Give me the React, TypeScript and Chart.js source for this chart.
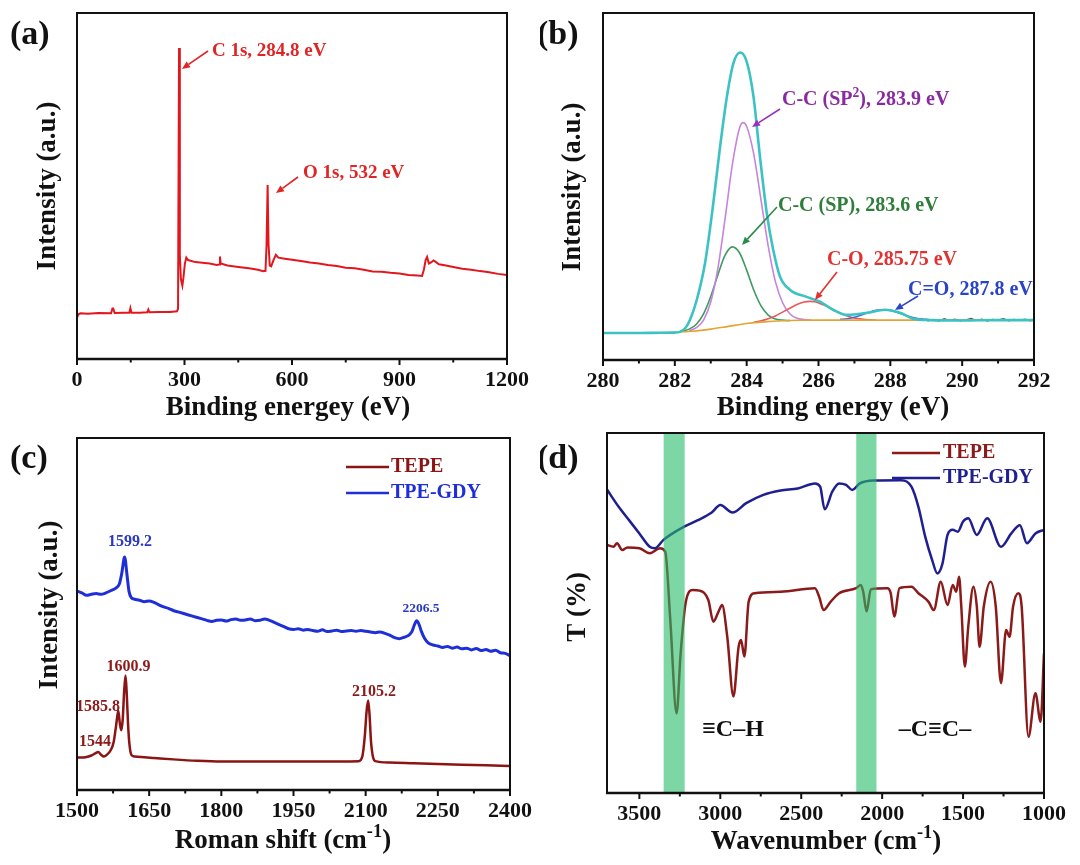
import React, { useEffect, useRef } from "react";
import { Chart, registerables } from "chart.js";
Chart.register(...registerables);

const FONT = "'Liberation Serif', 'Times New Roman', Times, serif";

// ---------------- (a) XPS survey ----------------
const A_ENERGY = [0, 4, 10, 30, 60, 95, 99, 101, 105, 130, 146, 149, 152, 175, 196, 199, 202, 230, 260, 279, 282, 284.8, 287, 290, 294, 297, 301, 305, 310, 330, 350, 370, 390, 397, 399, 401, 420, 450, 480, 505, 520, 526, 529, 532, 534.5, 538, 542, 548, 555, 562, 580, 600, 625, 650, 675, 700, 725, 750, 775, 800, 825, 850, 875, 900, 925, 950, 963, 968, 973, 977, 982, 988, 995, 1002, 1010, 1030, 1050, 1075, 1100, 1125, 1150, 1175, 1200];
const A_INTENSITY = [12.0, 12.9, 13.2, 13.1, 13.3, 13.2, 14.6, 14.6, 13.3, 13.4, 13.4, 14.7, 13.4, 13.4, 13.5, 14.3, 13.5, 13.6, 13.6, 13.8, 14.5, 89.9, 30, 23, 21.2, 23.5, 27.5, 29.3, 28.6, 28.0, 27.8, 27.6, 27.2, 27.3, 29.6, 27.6, 27.0, 26.6, 26.2, 25.8, 25.4, 25.5, 33, 50.3, 33, 27.0, 26.8, 28.5, 30.1, 29.3, 29.0, 28.7, 28.3, 27.9, 27.6, 27.2, 26.9, 26.4, 26.2, 25.8, 25.3, 25.2, 24.9, 24.7, 24.3, 24.1, 24.0, 25.8, 28.6, 29.5, 27.6, 27.9, 28.5, 28.0, 27.4, 27.0, 26.6, 26.1, 25.8, 25.4, 25.1, 24.6, 24.3];
const A_TICKS = [0, 300, 600, 900, 1200];
const A_MINOR = [150, 450, 750, 1050];

// ---------------- (b) C 1s ----------------
const B_ENV_X = [280, 281, 281.6, 282.0, 282.14, 282.3, 282.42, 282.61, 282.84, 283.07, 283.26, 283.45, 283.63, 283.82, 284.0, 284.19, 284.37, 284.56, 284.74, 284.93, 285.21, 285.67, 286.04, 286.42, 286.79, 287.35, 287.85, 288.27, 288.64, 289.1, 290, 291, 292];
const B_ENV_Y = [7.8, 7.8, 7.85, 7.9, 8.1, 9.3, 11.5, 17.3, 27.9, 45.1, 61.5, 75.9, 85.5, 88.6, 86.0, 75.9, 58.6, 42.3, 31.7, 24.0, 20.2, 18.2, 16.8, 14.4, 13.0, 13.6, 14.5, 13.6, 11.9, 11.5, 11.4, 11.5, 11.5];
const B_RAW_X = [288.6, 288.75, 288.9, 289.05, 289.2, 289.35, 289.5, 289.65, 289.8, 289.95, 290.1, 290.25, 290.4, 290.55, 290.7, 290.85, 291.0, 291.15, 291.3, 291.45, 291.6, 291.75, 291.9, 292];
const B_RAW_Y = [11.9, 11.4, 11.8, 11.3, 11.7, 11.2, 11.9, 11.4, 11.8, 11.3, 11.6, 12.0, 11.4, 11.8, 11.2, 11.7, 11.5, 11.9, 11.3, 11.7, 11.4, 11.8, 11.3, 11.6];
const B_SP2_X = [282.4, 282.6, 282.8, 283.0, 283.2, 283.4, 283.6, 283.8, 283.9, 284.0, 284.2, 284.4, 284.6, 284.8, 285.0, 285.2, 285.4, 285.6, 285.8];
const B_SP2_Y = [8.45, 9.3, 11.5, 16.7, 26.5, 40.8, 56.2, 66.8, 68.4, 67.3, 59.2, 46.1, 32.8, 22.6, 16.5, 13.35, 12.0, 11.65, 11.5];
const B_SP_X = [282.2, 282.4, 282.6, 282.8, 283.0, 283.2, 283.4, 283.6, 283.8, 284.0, 284.2, 284.4, 284.6, 284.8, 285.0, 285.2];
const B_SP_Y = [8.3, 8.9, 10.3, 13.3, 18.3, 24.6, 30.2, 32.6, 30.9, 25.9, 20.1, 15.6, 12.95, 11.8, 11.5, 11.35];
const B_CO_X = [284.2, 284.4, 284.6, 284.8, 285.0, 285.2, 285.4, 285.6, 285.75, 285.9, 286.0, 286.2, 286.4, 286.6, 286.8, 287.0, 287.2, 287.4, 287.6];
const B_CO_Y = [10.9, 11.3, 11.9, 12.7, 13.8, 14.9, 16.0, 16.7, 16.9, 16.8, 16.45, 15.6, 14.5, 13.5, 12.7, 12.1, 11.8, 11.6, 11.5];
const B_CDO_X = [286.6, 286.8, 287.0, 287.2, 287.4, 287.6, 287.8, 288.0, 288.2, 288.4, 288.6, 288.8, 289.0, 289.2];
const B_CDO_Y = [11.7, 11.9, 12.3, 13.0, 13.7, 14.3, 14.5, 14.3, 13.7, 13.0, 12.3, 11.9, 11.7, 11.5];
const B_BG_X = [280, 281, 282, 282.5, 283, 283.5, 284, 284.5, 285, 285.5, 286, 287, 288, 289, 290, 291, 292];
const B_BG_Y = [7.8, 7.8, 8.0, 8.3, 8.9, 9.7, 10.5, 11.0, 11.3, 11.45, 11.5, 11.5, 11.5, 11.5, 11.5, 11.5, 11.5];
const B_TICKS = [280, 282, 284, 286, 288, 290, 292];
const B_MINOR = [281, 283, 285, 287, 289, 291];

// ---------------- (c) Raman ----------------
const C_GDY_X = [1500, 1510, 1520, 1530, 1540, 1550, 1560, 1570, 1580, 1588, 1593, 1599, 1604, 1608, 1613, 1620, 1630, 1640, 1650, 1660, 1670, 1680, 1690, 1700, 1710, 1720, 1730, 1740, 1750, 1760, 1770, 1780, 1790, 1800, 1810, 1820, 1830, 1840, 1850, 1860, 1870, 1880, 1890, 1900, 1910, 1920, 1930, 1940, 1950, 1960, 1970, 1980, 1990, 2000, 2010, 2020, 2030, 2040, 2050, 2060, 2070, 2080, 2090, 2100, 2110, 2120, 2130, 2140, 2150, 2160, 2170, 2180, 2190, 2196, 2201, 2206, 2211, 2216, 2222, 2230, 2240, 2250, 2260, 2270, 2280, 2290, 2300, 2310, 2320, 2330, 2340, 2350, 2360, 2370, 2380, 2390, 2400];
const C_GDY_Y = [56.5, 56.0, 55.3, 55.6, 55.8, 55.6, 56.0, 56.6, 57.3, 58.5, 61.5, 66.2, 61.0, 56.5, 54.6, 54.2, 53.9, 53.5, 53.7, 53.3, 52.6, 52.0, 51.6, 51.0, 50.6, 50.2, 49.8, 49.4, 49.0, 48.6, 48.2, 47.9, 48.2, 48.3, 48.0, 48.4, 48.6, 48.2, 48.3, 48.6, 48.1, 48.2, 48.6, 48.2, 47.6, 47.0, 46.4, 45.8, 45.6, 45.8, 45.4, 45.6, 45.3, 45.1, 45.5, 45.0, 45.2, 45.4, 45.0, 45.2, 45.3, 45.1, 45.3, 45.1, 44.9, 44.7, 44.9, 44.5, 44.0, 43.3, 43.0, 43.4, 44.0, 45.0, 46.8, 48.1, 47.0, 45.0, 43.2, 41.8, 41.2, 40.9, 40.5, 40.8, 40.3, 40.6, 40.1, 40.3, 39.8, 40.2, 39.6, 39.9, 39.4, 39.7, 39.0, 38.8, 38.2];
const C_TEPE_X = [1500, 1510, 1520, 1530, 1538, 1544, 1550, 1556, 1562, 1570, 1576, 1581, 1585.8, 1589, 1592, 1595, 1598, 1600.9, 1603.5, 1606, 1609, 1613, 1620, 1640, 1660, 1700, 1750, 1800, 1850, 1900, 1950, 2000, 2050, 2085, 2093, 2098, 2102, 2105.2, 2108, 2111, 2115, 2120, 2150, 2200, 2250, 2300, 2350, 2400];
const C_TEPE_Y = [9.2, 9.2, 9.4, 9.8, 10.4, 10.8, 10.0, 9.5, 10.0, 11.3, 13.5, 18.0, 22.5, 19.0, 17.0, 20.0, 28.0, 32.5, 27.0, 19.0, 13.0, 10.0, 9.5, 9.3, 9.1, 8.7, 8.3, 8.1, 8.1, 8.1, 8.1, 8.1, 8.1, 8.2, 9.5, 15.0, 22.5, 25.4, 21.5, 14.0, 9.5, 8.2, 7.8, 7.6, 7.4, 7.2, 7.0, 6.8];
const C_TICKS = [1500, 1650, 1800, 1950, 2100, 2250, 2400];
const C_MINOR = [1575, 1725, 1875, 2025, 2175, 2325];

// ---------------- (d) FTIR ----------------
const D_GDY_X = [3700, 3628, 3564, 3500, 3436, 3404, 3351, 3309, 3223, 3138, 3053, 3000, 2925, 2840, 2734, 2627, 2521, 2415, 2383, 2355, 2308, 2266, 2223, 2185, 2138, 2053, 1883, 1819, 1776, 1734, 1691, 1659, 1627, 1596, 1564, 1532, 1500, 1468, 1415, 1351, 1266, 1202, 1149, 1106, 1053, 1000];
const D_GDY_Y = [84.3, 79.5, 75.8, 72.1, 68.4, 68.0, 70.3, 71.7, 74.0, 75.8, 77.9, 80.0, 77.9, 80.5, 82.8, 84.0, 84.6, 86.0, 85.1, 78.8, 83.7, 86.0, 85.6, 84.2, 86.0, 86.8, 86.9, 85.1, 79.5, 71.2, 64.7, 61.0, 63.8, 71.7, 73.1, 72.6, 75.4, 76.3, 71.7, 76.3, 68.4, 72.1, 74.4, 69.4, 72.1, 73.1];
const D_TEPE_X = [3700, 3660, 3638, 3606, 3574, 3500, 3436, 3372, 3340, 3309, 3270, 3245, 3213, 3170, 3128, 3074, 3043, 3011, 2989, 2957, 2919, 2887, 2872, 2851, 2825, 2787, 2627, 2415, 2389, 2362, 2319, 2266, 2160, 2132, 2117, 2096, 2070, 1968, 1947, 1925, 1893, 1819, 1776, 1713, 1681, 1638, 1596, 1564, 1542, 1525, 1511, 1489, 1468, 1436, 1415, 1398, 1372, 1330, 1298, 1266, 1234, 1213, 1191, 1159, 1138, 1096, 1053, 1021, 1000];
const D_TEPE_Y = [68.9, 68.4, 69.4, 67.5, 68.2, 68.0, 66.6, 68.0, 67.0, 48.1, 22.1, 38.8, 53.1, 56.4, 56.2, 53.6, 47.6, 50.4, 52.2, 43.4, 26.8, 40.6, 42.5, 37.9, 53.1, 55.5, 55.9, 56.9, 54.5, 50.8, 53.1, 55.5, 56.9, 57.8, 55.9, 50.4, 56.6, 56.9, 55.5, 49.0, 56.9, 57.3, 55.5, 53.1, 50.8, 58.7, 52.2, 57.8, 55.9, 60.1, 51.8, 35.1, 46.2, 57.3, 51.8, 40.6, 51.8, 58.7, 51.8, 30.5, 45.3, 43.4, 51.8, 55.5, 51.8, 15.6, 27.7, 19.8, 38.8];
const D_BANDS = [[3350, 3220], [2160, 2035]];
const D_TICKS = [3500, 3000, 2500, 2000, 1500, 1000];
const D_MINOR = [3250, 2750, 2250, 1750, 1250];

// ---------------- types & helpers ----------------
type Series = { x: number[]; y: number[]; color: string; width: number; smooth: boolean; order: number };
type TextItem = { text: string; x: number; y: number; size: number; color: string; align?: "left" | "center" | "right"; rot?: boolean };
type ArrowItem = { x1: number; y1: number; x2: number; y2: number; color: string };
type LegendItem = { label: string; color: string; x1: number; x2: number; y: number; tx: number };
type Spec = {
  offX: number; offY: number; w: number; h: number;
  area: { l: number; t: number; r: number; b: number };
  xMin: number; xMax: number; reverse: boolean; ticks: number[]; minor: number[]; tickPad: number;
  series: Series[]; texts: TextItem[]; arrows: ArrowItem[]; legends: LegendItem[]; bands: number[][];
};

function parseRich(s: string) {
  const out: { t: string; sup: boolean }[] = [];
  const re = /\^\{([^}]*)\}/g;
  let last = 0;
  let m: RegExpExecArray | null;
  while ((m = re.exec(s))) {
    if (m.index > last) out.push({ t: s.slice(last, m.index), sup: false });
    out.push({ t: m[1], sup: true });
    last = m.index + m[0].length;
  }
  if (last < s.length) out.push({ t: s.slice(last), sup: false });
  return out;
}

function drawText(ctx: CanvasRenderingContext2D, it: TextItem, offX: number, offY: number) {
  const parts = parseRich(it.text);
  const fontOf = (sup: boolean) => `bold ${sup ? it.size * 0.68 : it.size}px ${FONT}`;
  let total = 0;
  const widths = parts.map((p) => {
    ctx.font = fontOf(p.sup);
    const w = ctx.measureText(p.t).width;
    total += w;
    return w;
  });
  ctx.save();
  ctx.translate(it.x - offX, it.y - offY);
  if (it.rot) ctx.rotate(-Math.PI / 2);
  let cx = it.align === "left" ? 0 : it.align === "right" ? -total : -total / 2;
  ctx.fillStyle = it.color;
  ctx.textBaseline = "middle";
  ctx.textAlign = "left";
  parts.forEach((p, i) => {
    ctx.font = fontOf(p.sup);
    ctx.fillText(p.t, cx, p.sup ? -it.size * 0.33 : 0);
    cx += widths[i];
  });
  ctx.restore();
}

function drawArrow(ctx: CanvasRenderingContext2D, a: ArrowItem, offX: number, offY: number) {
  const x1 = a.x1 - offX, y1 = a.y1 - offY, x2 = a.x2 - offX, y2 = a.y2 - offY;
  const ang = Math.atan2(y2 - y1, x2 - x1);
  const hl = 8, hw = 3.5;
  const bx = x2 - hl * Math.cos(ang), by = y2 - hl * Math.sin(ang);
  ctx.save();
  ctx.strokeStyle = a.color;
  ctx.fillStyle = a.color;
  ctx.lineWidth = 1.6;
  ctx.beginPath();
  ctx.moveTo(x1, y1);
  ctx.lineTo(bx, by);
  ctx.stroke();
  ctx.beginPath();
  ctx.moveTo(x2, y2);
  ctx.lineTo(bx + hw * Math.sin(ang), by - hw * Math.cos(ang));
  ctx.lineTo(bx - hw * Math.sin(ang), by + hw * Math.cos(ang));
  ctx.closePath();
  ctx.fill();
  ctx.restore();
}

function makeDecor(spec: Spec) {
  return {
    id: "decor",
    afterDatasetsDraw(chart: any) {
      const ctx: CanvasRenderingContext2D = chart.ctx;
      const ca = chart.chartArea;
      const xs = chart.scales.x;
      ctx.save();
      spec.bands.forEach(([a, b]) => {
        const p1 = xs.getPixelForValue(a), p2 = xs.getPixelForValue(b);
        ctx.fillStyle = "rgba(38,188,105,0.6)";
        ctx.fillRect(Math.min(p1, p2), ca.top, Math.abs(p2 - p1), ca.bottom - ca.top);
      });
      ctx.strokeStyle = "#111";
      ctx.lineWidth = 2;
      ctx.strokeRect(ca.left, ca.top, ca.right - ca.left, ca.bottom - ca.top);
      ctx.lineWidth = 2.6;
      ctx.beginPath();
      ctx.moveTo(ca.left - 1, ca.bottom);
      ctx.lineTo(ca.right + 1, ca.bottom);
      ctx.stroke();
      ctx.lineWidth = 2;
      const tick = (v: number, len: number) => {
        const px = xs.getPixelForValue(v);
        ctx.beginPath();
        ctx.moveTo(px, ca.bottom);
        ctx.lineTo(px, ca.bottom + len);
        ctx.stroke();
      };
      spec.ticks.forEach((v) => tick(v, 6));
      spec.minor.forEach((v) => tick(v, 3.5));
      ctx.restore();
      spec.texts.forEach((t) => drawText(ctx, t, spec.offX, spec.offY));
      spec.arrows.forEach((a) => drawArrow(ctx, a, spec.offX, spec.offY));
      spec.legends.forEach((lg) => {
        ctx.save();
        ctx.strokeStyle = lg.color;
        ctx.lineWidth = 2.5;
        ctx.beginPath();
        ctx.moveTo(lg.x1 - spec.offX, lg.y - spec.offY);
        ctx.lineTo(lg.x2 - spec.offX, lg.y - spec.offY);
        ctx.stroke();
        ctx.restore();
        drawText(ctx, { text: lg.label, x: lg.tx, y: lg.y, size: 20, color: lg.color, align: "left" }, spec.offX, spec.offY);
      });
    },
  };
}

const BLACK = "#111";

const A_SPEC: Spec = {
  offX: 0, offY: 0, w: 540, h: 425,
  area: { l: 77, t: 13, r: 507, b: 359 },
  xMin: 0, xMax: 1200, reverse: false, ticks: A_TICKS, minor: A_MINOR, tickPad: 8,
  series: [{ x: A_ENERGY, y: A_INTENSITY, color: "#e3161e", width: 2, smooth: false, order: 1 }],
  texts: [
    { text: "(a)", x: 10, y: 35, size: 34, color: BLACK, align: "left" },
    { text: "Intensity (a.u.)", x: 48, y: 186, size: 27, color: BLACK, rot: true },
    { text: "Binding energey (eV)", x: 288, y: 408, size: 27, color: BLACK },
    { text: "C 1s, 284.8 eV", x: 212, y: 51, size: 19, color: "#e02525", align: "left" },
    { text: "O 1s, 532 eV", x: 303, y: 173, size: 19, color: "#e02525", align: "left" },
  ],
  arrows: [
    { x1: 208, y1: 51, x2: 182, y2: 69, color: "#e02525" },
    { x1: 298, y1: 177, x2: 276, y2: 193, color: "#e02525" },
  ],
  legends: [], bands: [],
};

const B_SPEC: Spec = {
  offX: 540, offY: 0, w: 540, h: 425,
  area: { l: 63, t: 13, r: 494, b: 360 },
  xMin: 280, xMax: 292, reverse: false, ticks: B_TICKS, minor: B_MINOR, tickPad: 8,
  series: [
    { x: B_RAW_X, y: B_RAW_Y, color: "#555555", width: 1.2, smooth: false, order: 8 },
    { x: B_SP_X, y: B_SP_Y, color: "#3f9a62", width: 1.6, smooth: true, order: 6 },
    { x: B_SP2_X, y: B_SP2_Y, color: "#c585dc", width: 1.6, smooth: true, order: 5 },
    { x: B_CO_X, y: B_CO_Y, color: "#e65a5a", width: 1.6, smooth: true, order: 4 },
    { x: B_CDO_X, y: B_CDO_Y, color: "#4a66dd", width: 1.6, smooth: true, order: 3 },
    { x: B_BG_X, y: B_BG_Y, color: "#e3a532", width: 1.6, smooth: true, order: 2 },
    { x: B_ENV_X, y: B_ENV_Y, color: "#3cc2c2", width: 2.6, smooth: true, order: 1 },
  ],
  texts: [
    { text: "(b)", x: 537, y: 35, size: 34, color: BLACK, align: "left" },
    { text: "Intensity (a.u.)", x: 573, y: 187, size: 27, color: BLACK, rot: true },
    { text: "Binding energy (eV)", x: 833, y: 408, size: 27, color: BLACK },
    { text: "C-C (SP^{2}), 283.9 eV", x: 782, y: 100, size: 20, color: "#8a2aa0", align: "left" },
    { text: "C-C (SP), 283.6 eV", x: 778, y: 206, size: 20, color: "#2e7d3a", align: "left" },
    { text: "C-O, 285.75 eV", x: 827, y: 260, size: 20, color: "#e33030", align: "left" },
    { text: "C=O, 287.8 eV", x: 908, y: 290, size: 20, color: "#2a44c8", align: "left" },
  ],
  arrows: [
    { x1: 780, y1: 109, x2: 752, y2: 127, color: "#9a30c0" },
    { x1: 777, y1: 207, x2: 742, y2: 245, color: "#2e8a4a" },
    { x1: 837, y1: 272, x2: 815, y2: 300, color: "#e33030" },
    { x1: 918, y1: 296, x2: 895, y2: 310, color: "#2a44c8" },
  ],
  legends: [], bands: [],
};

const C_SPEC: Spec = {
  offX: 0, offY: 425, w: 540, h: 440,
  area: { l: 77, t: 13, r: 512, b: 365 },
  xMin: 1500, xMax: 2400, reverse: false, ticks: C_TICKS, minor: C_MINOR, tickPad: 8,
  series: [
    { x: C_TEPE_X, y: C_TEPE_Y, color: "#8b1414", width: 2.5, smooth: true, order: 2 },
    { x: C_GDY_X, y: C_GDY_Y, color: "#1f2fd8", width: 3, smooth: true, order: 1 },
  ],
  texts: [
    { text: "(c)", x: 10, y: 459, size: 34, color: BLACK, align: "left" },
    { text: "Intensity (a.u.)", x: 50, y: 605, size: 27, color: BLACK, rot: true },
    { text: "Roman shift (cm^{-1})", x: 283, y: 841, size: 27, color: BLACK },
    { text: "1599.2", x: 130, y: 542, size: 16, color: "#2a3ac0" },
    { text: "2206.5", x: 421, y: 609, size: 13.5, color: "#2a3ac0" },
    { text: "1600.9", x: 128.5, y: 667, size: 16, color: "#8b1a1a" },
    { text: "1585.8", x: 98, y: 707, size: 16, color: "#8b1a1a" },
    { text: "1544", x: 95, y: 742, size: 16, color: "#8b1a1a" },
    { text: "2105.2", x: 374, y: 692, size: 16, color: "#8b1a1a" },
  ],
  arrows: [],
  legends: [
    { label: "TEPE", color: "#8b1414", x1: 346, x2: 389, y: 467, tx: 391 },
    { label: "TPE-GDY", color: "#1f2fd8", x1: 346, x2: 389, y: 493, tx: 391 },
  ],
  bands: [],
};

const D_SPEC: Spec = {
  offX: 540, offY: 425, w: 540, h: 440,
  area: { l: 67, t: 8, r: 504, b: 368 },
  xMin: 1000, xMax: 3700, reverse: true, ticks: D_TICKS, minor: D_MINOR, tickPad: 8,
  series: [
    { x: D_TEPE_X, y: D_TEPE_Y, color: "#8b1a1a", width: 2.5, smooth: true, order: 2 },
    { x: D_GDY_X, y: D_GDY_Y, color: "#1f1f8f", width: 2.5, smooth: true, order: 1 },
  ],
  texts: [
    { text: "(d)", x: 537, y: 459, size: 34, color: BLACK, align: "left" },
    { text: "T (%)", x: 578, y: 607, size: 27, color: BLACK, rot: true },
    { text: "Wavenumber (cm^{-1})", x: 826, y: 842, size: 27, color: BLACK },
    { text: "\u2261C\u2013H", x: 733, y: 730, size: 24, color: BLACK },
    { text: "\u2013C\u2261C\u2013", x: 935, y: 730, size: 24, color: BLACK },
  ],
  arrows: [],
  legends: [
    { label: "TEPE", color: "#8b1a1a", x1: 892, x2: 940, y: 453, tx: 943 },
    { label: "TPE-GDY", color: "#1f1f8f", x1: 892, x2: 940, y: 478, tx: 943 },
  ],
  bands: D_BANDS,
};

const SPECS = [A_SPEC, B_SPEC, C_SPEC, D_SPEC];

function buildChart(canvas: HTMLCanvasElement, spec: Spec) {
  return new Chart(canvas, {
    type: "line",
    data: {
      datasets: spec.series.map((s) => ({
        data: s.x.map((x, i) => ({ x, y: s.y[i] })),
        borderColor: s.color,
        borderWidth: s.width,
        pointRadius: 0,
        fill: false,
        tension: 0,
        cubicInterpolationMode: s.smooth ? "monotone" : "default",
        order: s.order,
      })),
    },
    options: {
      responsive: false,
      animation: false,
      events: [],
      layout: { padding: { top: spec.area.t, right: spec.w - spec.area.r, bottom: 0, left: 0 } },
      plugins: { legend: { display: false }, tooltip: { enabled: false }, title: { display: false } },
      scales: {
        x: {
          type: "linear",
          min: spec.xMin,
          max: spec.xMax,
          reverse: spec.reverse,
          afterBuildTicks: (sc: any) => {
            sc.ticks = spec.ticks.map((v) => ({ value: v }));
          },
          afterFit: (sc: any) => {
            sc.height = spec.h - spec.area.b;
          },
          grid: { display: false, drawTicks: false },
          border: { display: false },
          ticks: {
            font: { family: FONT, size: 22, weight: "bold" },
            color: "#111",
            padding: spec.tickPad,
            maxRotation: 0,
            autoSkip: false,
            callback: (v: any) => String(v),
          },
        },
        y: {
          type: "linear",
          min: 0,
          max: 100,
          afterFit: (sc: any) => {
            sc.width = spec.area.l;
          },
          grid: { display: false, drawTicks: false },
          border: { display: false },
          ticks: { display: false },
        },
      },
    } as any,
    plugins: [makeDecor(spec)],
  });
}

function Panel({ spec }: { spec: Spec }) {
  const ref = useRef<HTMLCanvasElement>(null);
  useEffect(() => {
    const chart = buildChart(ref.current as HTMLCanvasElement, spec);
    return () => chart.destroy();
  }, [spec]);
  return (
    <canvas
      ref={ref}
      width={spec.w}
      height={spec.h}
      style={{ position: "absolute", left: spec.offX, top: spec.offY, width: spec.w, height: spec.h }}
    />
  );
}

export default function App() {
  return (
    <div style={{ position: "absolute", left: 0, top: 0, width: 1080, height: 865, background: "#fff", overflow: "hidden" }}>
      {SPECS.map((s, i) => (
        <Panel key={i} spec={s} />
      ))}
    </div>
  );
}
